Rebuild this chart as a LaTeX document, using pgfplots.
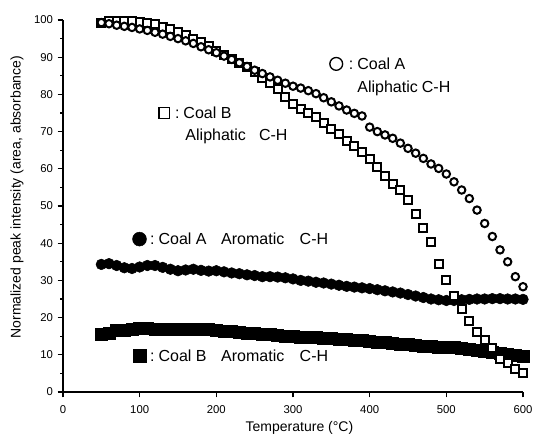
\documentclass[border=0pt]{standalone}
\usepackage{fontspec}
\setmainfont{Liberation Sans}
\usepackage{pgfplots}
\pgfplotsset{compat=1.18}
\begin{document}
\begin{tikzpicture}
\begin{axis}[
  scale only axis, width=345pt, height=279pt,
  xmin=0, xmax=600, ymin=0, ymax=100,
  axis x line*=bottom, axis y line*=left,
  axis line style={line width=1pt},
  xtick={0,100,...,600}, ytick={0,10,...,100},
  minor y tick num=1,
  tick align=outside, major tick length=4pt, minor tick length=2pt,
  tick style={black, line width=0.8pt},
  /pgf/number format/assume math mode=true,
  tick label style={font=\fontsize{8.5}{10}\selectfont},
  xticklabel style={yshift=-3pt},
  label style={font=\fontsize{10.5}{12}\selectfont},
  xlabel={Temperature (°C)},
  ylabel={Normalized peak intensity (area, absorbance)},
  xlabel style={at={(axis description cs:0.514,-0.097)}, anchor=center},
  ylabel style={at={(axis description cs:-0.1,0.524)}, anchor=center},
  clip=false,
]
% Coal A aromatic (filled circles)
\addplot[only marks, mark=*, mark size=4pt, black] coordinates {
(50,34.3)(60,34.5)(70,34.0)(80,33.4)(90,33.2)(100,33.6)(110,34.0)(120,34.0)(130,33.5)(140,33.0)
(150,32.6)(160,32.8)(170,33.0)(180,32.7)(190,32.5)(200,32.6)(210,32.3)(220,32.0)(230,31.8)(240,31.5)
(250,31.3)(260,31.0)(270,31.0)(280,30.9)(290,30.7)(300,30.4)(310,30.0)(320,29.8)(330,29.5)(340,29.3)
(350,29.0)(360,28.7)(370,28.4)(380,28.2)(390,28.0)(400,27.8)(410,27.5)(420,27.2)(430,26.9)(440,26.6)
(450,26.2)(460,25.8)(470,25.4)(480,25.0)(490,24.8)(500,24.6)(510,24.6)(520,24.8)(530,24.9)(540,25.0)
(550,25.0)(560,25.1)(570,25.1)(580,25.0)(590,25.0)(600,24.9)};
% Coal B aromatic (filled squares)
\addplot[only marks, mark=square*, mark size=4.5pt, black] coordinates {
(50,15.6)(60,15.8)(70,16.5)(80,16.6)(90,16.8)(100,17.0)(110,17.0)(120,16.9)(130,16.8)(140,16.8)
(150,16.9)(160,16.8)(170,16.9)(180,16.8)(190,16.9)(200,16.6)(210,16.4)(220,16.2)(230,16.0)(240,15.8)
(250,15.7)(260,15.6)(270,15.4)(280,15.2)(290,15.0)(300,14.9)(310,14.8)(320,14.7)(330,14.6)(340,14.5)
(350,14.4)(360,14.3)(370,14.2)(380,14.0)(390,13.9)(400,13.7)(410,13.5)(420,13.3)(430,13.1)(440,12.9)
(450,12.7)(460,12.5)(470,12.3)(480,12.2)(490,12.1)(500,12.0)(510,11.9)(520,11.7)(530,11.5)(540,11.2)
(550,11.0)(560,10.7)(570,10.4)(580,10.1)(590,9.8)(600,9.6)};
% Coal B aliphatic (open squares)
\addplot[only marks, mark=square*, mark size=3pt, mark options={draw=black, fill=white, line width=1.5pt}] coordinates {
(50,99.2)(60,99.6)(70,99.8)(80,99.8)(90,99.7)(100,99.5)(110,99.2)(120,98.8)(130,98.2)(140,97.6)
(150,96.9)(160,96.0)(170,95.0)(180,94.0)(190,92.9)(200,91.7)(210,90.6)(220,89.6)(230,88.5)(240,87.3)
(250,85.9)(260,84.5)(270,83.0)(280,81.4)(290,79.3)(300,77.4)(310,76.0)(320,74.9)(330,73.8)(340,72.4)
(350,70.8)(360,69.3)(370,67.6)(380,66.0)(390,64.6)(400,62.5)(410,60.6)(420,58.0)(430,56.0)(440,54.3)
(450,51.6)(460,47.8)(470,44.2)(480,40.2)(490,34.5)(500,30.2)(510,25.8)(520,22.2)(530,19.0)(540,16.0)
(550,14.0)(560,11.8)(570,9.0)(580,7.8)(590,6.2)(600,5.0)};
% Coal A aliphatic (open circles)
\addplot[only marks, mark=*, mark size=2.8pt, mark options={draw=black, fill=white, line width=1.5pt}] coordinates {
(50,99.3)(60,99.0)(70,98.6)(80,98.3)(90,98.0)(100,97.6)(110,97.2)(120,96.7)(130,96.2)(140,95.6)
(150,95.0)(160,94.4)(170,93.7)(180,92.8)(190,92.0)(200,91.2)(210,90.3)(220,89.4)(230,88.5)(240,87.5)
(250,86.5)(260,85.6)(270,84.7)(280,83.8)(290,83.0)(300,82.2)(310,81.7)(320,81.0)(330,80.2)(340,79.1)
(350,78.0)(360,76.9)(370,75.8)(380,74.9)(390,74.2)(400,71.2)(410,70.0)(420,69.1)(430,68.2)(440,66.9)
(450,65.5)(460,64.2)(470,62.8)(480,61.3)(490,60.1)(500,58.6)(510,56.5)(520,54.3)(530,52.0)(540,48.9)
(550,45.3)(560,41.8)(570,38.2)(580,35.0)(590,31.0)(600,28.3)};
% annotation symbols
\addplot[only marks, mark=*, mark size=4.8pt, mark options={draw=black, fill=white, line width=1pt}] coordinates {(356.4,88.2)};
\addplot[only marks, mark=square*, mark size=4pt, mark options={draw=black, fill=white, line width=1.1pt}] coordinates {(132.2,75.0)};
\addplot[only marks, mark=*, mark size=5.2pt, black] coordinates {(99.8,41.1)};
\addplot[only marks, mark=square*, mark size=5pt, black] coordinates {(99.8,9.8)};
% annotation texts
\begin{scope}[every node/.style={font=\fontsize{12}{14}\selectfont, inner sep=0pt}]
\node[anchor=base] at (axis cs:375.8,86.6) {:};
\node[anchor=base west] at (axis cs:383.6,86.6) {Coal A};
\node[anchor=base west] at (axis cs:383.6,80.5) {Aliphatic};
\node[anchor=base west] at (axis cs:467.8,80.5) {C-H};
\node[anchor=base] at (axis cs:149.0,73.5) {:};
\node[anchor=base west] at (axis cs:156.8,73.5) {Coal B};
\node[anchor=base west] at (axis cs:159.4,67.6) {Aliphatic};
\node[anchor=base west] at (axis cs:255.3,67.6) {C-H};
\node[anchor=base] at (axis cs:116.6,39.6) {:};
\node[anchor=base west] at (axis cs:124.4,39.6) {Coal A};
\node[anchor=base west] at (axis cs:206.0,39.6) {Aromatic};
\node[anchor=base west] at (axis cs:308.4,39.6) {C-H};
\node[anchor=base] at (axis cs:116.6,8.2) {:};
\node[anchor=base west] at (axis cs:124.4,8.2) {Coal B};
\node[anchor=base west] at (axis cs:206.0,8.2) {Aromatic};
\node[anchor=base west] at (axis cs:308.4,8.2) {C-H};
\end{scope}
\coordinate (sw) at (rel axis cs:0,0);
\coordinate (ne) at (rel axis cs:1,1);
\end{axis}
\pgfresetboundingbox
\path[use as bounding box] ([xshift=-47.25pt,yshift=-34.5pt]sw) rectangle ([xshift=7.5pt,yshift=15pt]ne);
\end{tikzpicture}
\end{document}
